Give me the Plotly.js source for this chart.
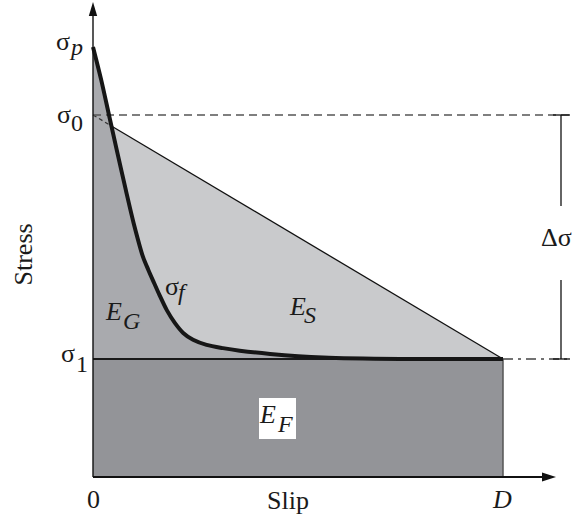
<!DOCTYPE html>
<html><head><meta charset="utf-8">
<script src="https://cdn.plot.ly/plotly-3.0.1.min.js"></script>
<style>html,body{margin:0;padding:0;background:#fff}</style>
</head><body><div id="chart" style="width:576px;height:518px"></div>
<script>
// ---------- data (slip in units of D, stress in units of sigma0) ----------
const slipD = 1.0;
const stressP = 1.188;  // sigma_p (peak)
const stress0 = 1.0;    // sigma_0 (initial)
const stress1 = 0.326;  // sigma_1 (final)
const curveSlip   = [0, 0.020, 0.039, 0.058, 0.080, 0.099, 0.122, 0.135, 0.149, 0.162, 0.180, 0.200, 0.220, 0.244, 0.277, 0.317, 0.358, 0.432, 0.561, 0.749, 1.0];
const curveStress = [1.188, 1.097, 1.000, 0.903, 0.793, 0.702, 0.608, 0.572, 0.536, 0.503, 0.461, 0.425, 0.398, 0.379, 0.365, 0.356, 0.349, 0.340, 0.330, 0.326, 0.326];
const xTickLabels = ['0', 'D'];
const axisTitles = {x: 'Slip', y: 'Stress'};

// ---------- layout geometry ----------
const W = 576, H = 518;
const X0PX = 93, XSCALE = 410;   // pixel of slip 0, px per unit slip
const Y0PX = 477, YSCALE = 362;  // pixel of stress 0, px per unit stress
const dx = p => p / XSCALE, dy = p => p / YSCALE;
const xAt = px => (px - X0PX) / XSCALE, yAt = py => (Y0PX - py) / YSCALE;

const FONT = '"Liberation Serif", "Times New Roman", Times, serif';
const C_EG = '#a9aaae', C_ES = '#c9cacc', C_EF = '#939498';

// crossing of sigma0 -> sigma1 line with the friction curve
const lineY = x => stress0 + (stress1 - stress0) * x / slipD;
let crossX = 0;
for (let i = 0; i < curveSlip.length - 1; i++) {
  const a = curveStress[i] - lineY(curveSlip[i]);
  const b = curveStress[i + 1] - lineY(curveSlip[i + 1]);
  if (a >= 0 && b < 0) { crossX = curveSlip[i] + (curveSlip[i + 1] - curveSlip[i]) * a / (a - b); break; }
}

const xTip = xAt(556), yTip = yAt(2);
const barX = xAt(561);
const refEnd = xAt(570);

function line(x, y, color, width, dash, shape) {
  return {x, y, type: 'scatter', mode: 'lines', hoverinfo: 'skip', showlegend: false,
          line: {color, width, dash: dash || 'solid', shape: shape || 'linear', smoothing: 0.8}};
}
function poly(x, y, color) {
  return {x, y, type: 'scatter', mode: 'lines', fill: 'toself', fillcolor: color,
          line: {width: 0}, hoverinfo: 'skip', showlegend: false};
}

const traces = [];
// E_S triangle (between sigma0-sigma1 line and sigma1)
traces.push(poly([0, slipD, 0], [stress0, stress1, stress1], C_ES));
// E_G : under friction curve, above sigma1
traces.push(poly(curveSlip.concat([0]), curveStress.concat([stress1]), C_EG));
// E_F rectangle
traces.push(poly([0, slipD, slipD, 0], [0, 0, stress1, stress1], C_EF));
// sloped line sigma0 -> D
traces.push(line([0, crossX], [stress0, lineY(crossX)], '#333', 1.2, '4px,3px'));
traces.push(line([crossX, slipD], [lineY(crossX), stress1], '#111', 1.3));
// right edge of E_F
traces.push(line([slipD, slipD], [0, stress1], '#555', 1.5));
// sigma1 line
traces.push(line([0, slipD], [stress1, stress1], '#1a1a1a', 2));
// reference dashed sigma0
traces.push(line([0, refEnd], [stress0, stress0], '#555', 1.5, '8px,5px'));
// dash-dot sigma1 extension
traces.push(line([slipD, xAt(572)], [stress1, stress1], '#444', 1.3, '10px,5px,3px,5px'));
// delta sigma bar
traces.push(line([barX, barX], [stress0, yAt(206)], '#111', 1.3));
traces.push(line([barX, barX], [yAt(280), stress1], '#111', 1.3));
traces.push(line([xAt(553), xAt(570)], [stress1, stress1], '#111', 1.3));
traces.push(line([xAt(553), xAt(570)], [stress0, stress0], '#111', 1.3));
// friction curve
traces.push(line(curveSlip, curveStress, '#161616', 4, 'solid', 'spline'));
// axes
traces.push(line([0, xTip - dx(13)], [0, 0], '#111', 1.8));
traces.push(line([0, 0], [0, yTip - dy(13)], '#111', 1.4));
// arrowheads
traces.push(poly([xTip, xTip - dx(14), xTip - dx(14)], [0, dy(4.5), -dy(4.5)], '#111'));
traces.push(poly([0, -dx(4.2), dx(4.2)], [yTip, yTip - dy(14), yTip - dy(14)], '#111'));

// ---------- labels ----------
const ann = [];
function pLab(text, px, py, size, italic, extra) {
  ann.push(Object.assign({xref: 'paper', yref: 'paper', x: px / W, y: 1 - py / H,
    text: italic ? '<i>' + text + '</i>' : text, showarrow: false,
    xanchor: 'center', yanchor: 'middle',
    font: {family: FONT, size: size, color: '#1a1a1a'}}, extra || {}));
}
function yLab(text, px, yval, shift, size, italic) {
  ann.push({xref: 'paper', yref: 'y', x: px / W, y: yval, yshift: shift,
    text: italic ? '<i>' + text + '</i>' : text, showarrow: false,
    xanchor: 'center', yanchor: 'middle',
    font: {family: FONT, size: size, color: '#1a1a1a'}});
}
// stress tick labels
yLab('σ', 62.5, stressP, 5, 26, false);  yLab('p', 76, stressP, 0, 24, true);
yLab('σ', 63.5, stress0, 0.5, 26, false); yLab('0', 77, stress0, -8, 24, false);
yLab('σ', 67.5, stress1, 5.5, 26, false); yLab('1', 82, stress1, -5, 24, false);
// slip tick labels
pLab(xTickLabels[0], 93.5, 499, 26, false);
pLab(xTickLabels[1], 502, 499, 26, true);
// axis titles
pLab(axisTitles.x, 288, 500, 26, false);
pLab(axisTitles.y, 22.5, 255, 26, false, {textangle: -90});
// region labels
pLab('E', 113, 311, 26, true); pLab('G', 131, 321, 24, true);
pLab('E', 297, 306, 26, true); pLab('S', 310, 315, 24, true);
pLab('σ', 171.5, 286.5, 26, false); pLab('f', 183, 292, 24, true);
pLab('E', 267.5, 414, 26, true); pLab('F', 284.5, 424, 24, true);
pLab('Δσ', 556, 238, 26, false);

const layout = {
  width: W, height: H, margin: {l: 0, r: 0, t: 0, b: 0},
  font: {family: FONT},
  paper_bgcolor: '#fff', plot_bgcolor: '#fff', showlegend: false,
  xaxis: {range: [-X0PX / XSCALE, (W - X0PX) / XSCALE], visible: false, fixedrange: true},
  yaxis: {range: [-(H - Y0PX) / YSCALE, Y0PX / YSCALE], visible: false, fixedrange: true},
  shapes: [{type: 'rect', xref: 'paper', yref: 'paper', layer: 'above',
            x0: 259 / W, x1: 296 / W, y0: 1 - 439 / H, y1: 1 - 398 / H,
            fillcolor: '#fff', line: {width: 0}}],
  annotations: ann
};
Plotly.newPlot('chart', traces, layout, {displayModeBar: false, staticPlot: true});
</script></body></html>
